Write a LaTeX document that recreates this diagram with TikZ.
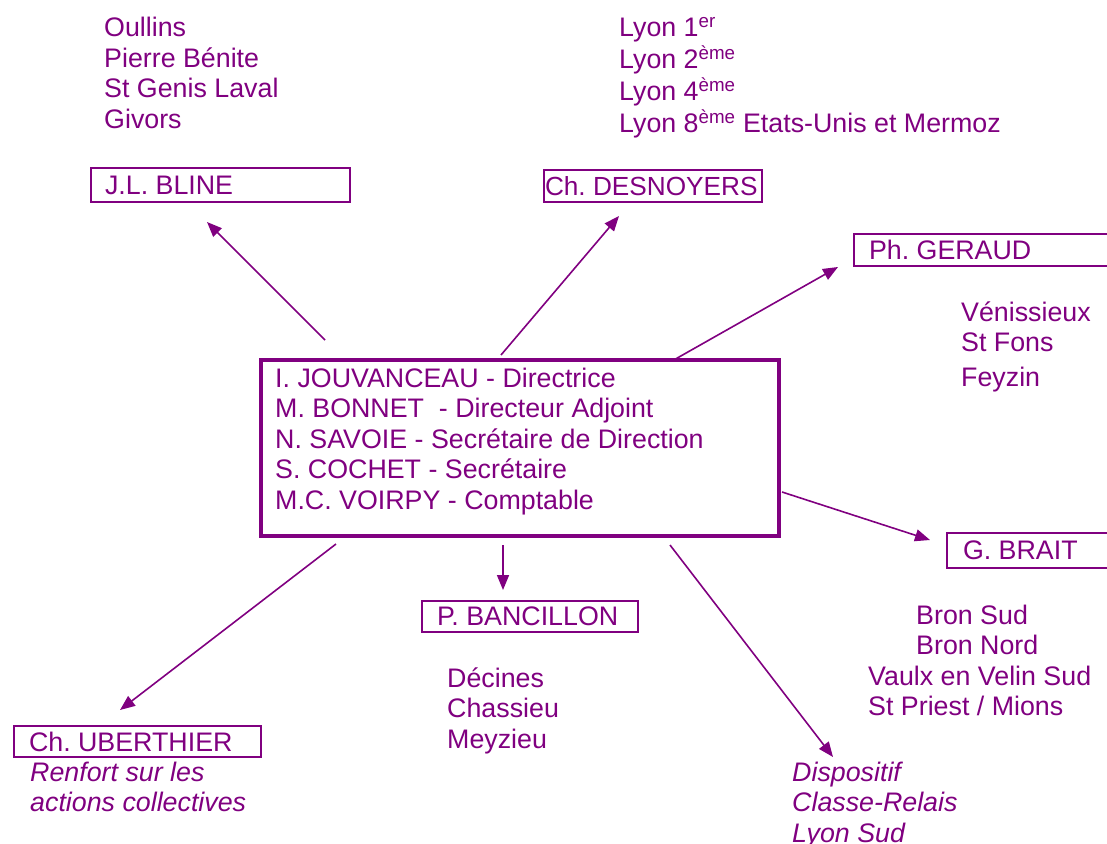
\documentclass[tikz,border=0pt]{standalone}
\usepackage{fontspec}
\setmainfont{Liberation Sans}
\usetikzlibrary{arrows.meta}
\definecolor{pur}{HTML}{800080}
\frenchspacing
\newcommand{\blk}[1]{\begin{tabular}[t]{@{}l@{}}#1\end{tabular}}
\newcommand{\bx}[2]{\makebox[#1][l]{#2}}
\begin{document}
\begin{tikzpicture}[x=1pt,y=-1pt,
  txt/.style={text=pur,font=\fontsize{26.8}{30.5}\selectfont,inner sep=0pt,anchor=base west},
  itxt/.style={txt,font=\fontsize{26.8}{30.5}\selectfont\itshape},
  pbox/.style={draw=pur,line width=2pt,text=pur,font=\fontsize{26.8}{30.5}\selectfont,
    anchor=north west,inner ysep=0pt},
  mbox/.style={draw=pur,line width=3.5pt,anchor=north west,inner sep=0pt},
  arr/.style={draw=pur,line width=1.6pt,-{Triangle[length=15pt,width=12pt]}}]
\useasboundingbox (0,0) rectangle (1107,843);

% text blocks
\node[txt] (west) at (104,37) {\blk{Oullins\\Pierre Bénite\\St Genis Laval\\Givors}};
\node[txt] (lyon) at (619,37) {\blk{Lyon 1\textsuperscript{er}\\Lyon 2\textsuperscript{ème}\\Lyon 4\textsuperscript{ème}\\Lyon 8\textsuperscript{ème} Etats-Unis et Mermoz}};
\node[txt] (est) at (961,321) {\blk{Vénissieux\\St Fons\\[4pt]Feyzin}};
\node[txt] (bron) at (868,624) {\blk{\hspace*{48pt}Bron Sud\\\hspace*{48pt}Bron Nord\\Vaulx en Velin Sud\\St Priest / Mions}};
\node[txt] (decines) at (447,687) {\blk{Décines\\Chassieu\\Meyzieu}};
\node[itxt] (renfort) at (30,781) {\blk{Renfort sur les\\actions collectives}};
\node[itxt] (dispo) at (792,781) {\blk{Dispositif\\Classe-Relais\\Lyon Sud}};

% boxes
\node[pbox,minimum height=34pt,inner xsep=14pt] (bline) at (90,167) {\bx{231pt}{J.L. BLINE}};
\node[pbox,minimum height=32pt,inner xsep=1pt] (desn) at (543,169) {\bx{216pt}{\fontsize{26.2}{30.5}\selectfont Ch. DESNOYERS}};
\node[pbox,minimum height=32pt,inner xsep=15pt] (geraud) at (853,233) {\bx{240pt}{Ph. GERAUD}};
\node[pbox,minimum height=35pt,inner xsep=16pt] (brait) at (946,532) {\bx{180pt}{G. BRAIT}};
\node[pbox,minimum height=31pt,inner xsep=15pt] (banc) at (421,600) {\bx{186pt}{P. BANCILLON}};
\node[pbox,minimum height=31pt,inner xsep=15pt] (uber) at (13,725) {\bx{217pt}{Ch. UBERTHIER}};

\node[mbox,minimum width=518pt,minimum height=176pt] (dir) at (259,358) {};
\node[txt] (dirtxt) at (275,387) {\blk{I. JOUVANCEAU - Directrice\\M. BONNET \ - Directeur Adjoint\\N. SAVOIE - Secrétaire de Direction\\S. COCHET - Secrétaire\\M.C. VOIRPY - Comptable}};

% connector end points
\coordinate (s1) at (325,340); \coordinate (e1) at (207,222);
\coordinate (s2) at (501,355); \coordinate (e2) at (619,216);
\coordinate (s3) at (672,361); \coordinate (e3) at (838,267);
\coordinate (s4) at (782,492); \coordinate (e4) at (930,540);
\coordinate (s5) at (503,545); \coordinate (e5) at (503,590);
\coordinate (s6) at (336,544); \coordinate (e6) at (120,710);
\coordinate (s7) at (670,545); \coordinate (e7) at (833,757);

\draw[arr] (s1) -- (e1);
\draw[arr] (s2) -- (e2);
\draw[arr] (s3) -- (e3);
\draw[arr] (s4) -- (e4);
\draw[arr] (s5) -- (e5);
\draw[arr] (s6) -- (e6);
\draw[arr] (s7) -- (e7);
\end{tikzpicture}
\end{document}
